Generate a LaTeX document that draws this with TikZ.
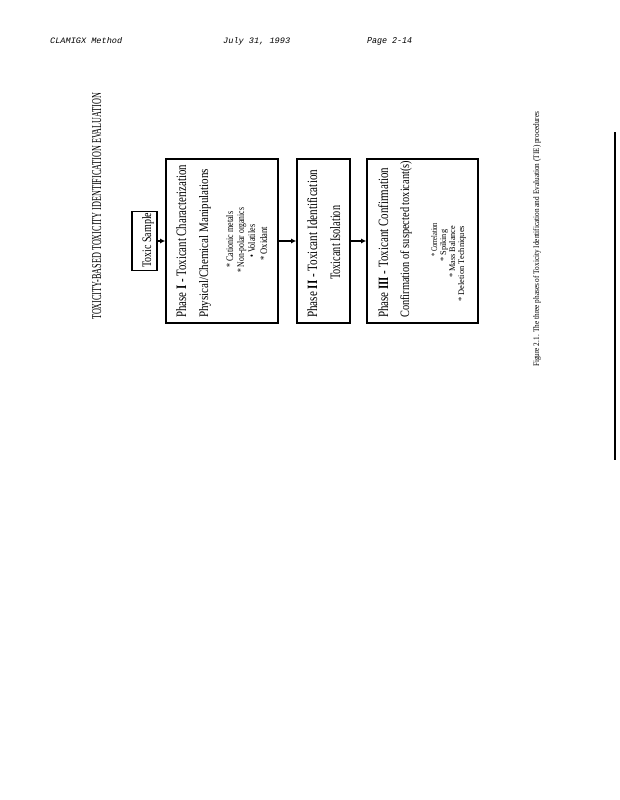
\documentclass[tikz,border=0pt]{standalone}
\usepackage{fontspec}
\setmainfont{Liberation Serif}
\setmonofont{Liberation Mono}
\usepackage{graphicx}
\usetikzlibrary{arrows.meta}

% squeeze a text to a given length and height (in pt)
\newcommand{\fitbox}[3]{\resizebox{#1pt}{#2pt}{#3}}

\begin{document}
\begin{tikzpicture}[x=1pt, y=-1pt,
    phase/.style={draw, line width=1.6pt, inner sep=0pt},
    vtext/.style={rotate=90, inner sep=0pt, anchor=base west},
    htext/.style={inner sep=0pt, anchor=base west, font=\ttfamily\itshape},
    flow/.style={line width=1.4pt, -{Latex[length=5pt, width=5pt]}},
]
\fill[white] (0,0) rectangle (619,800);
\useasboundingbox (0,0) rectangle (619,800);

% page header
\node[htext] (hmethod) at (50, 44) {\fitbox{72}{6}{CLAMIGX Method}};
\node[htext] (hdate) at (223, 44) {\fitbox{67}{6}{July 31, 1993}};
\node[htext] (hpage) at (367, 44) {\fitbox{45}{6}{Page 2-14}};

% title
\node[vtext] (title) at (101, 320) {\fitbox{227}{9}{TOXICITY-BASED TOXICITY IDENTIFICATION EVALUATION}};

% boxes
\node[phase, minimum width=25pt, minimum height=59pt] (sample) at (144.5, 241) {};
\node[phase, minimum width=112pt, minimum height=164pt] (p1) at (222, 241) {};
\node[phase, minimum width=53pt, minimum height=164pt] (p2) at (323.5, 241) {};
\node[phase, minimum width=111pt, minimum height=164pt] (p3) at (422.5, 241) {};

\draw[flow] (sample) -- (p1);
\draw[flow] (p1) -- (p2);
\draw[flow] (p2) -- (p3);

\node[vtext] (sampletxt) at (151, 268) {\fitbox{55}{9}{Toxic Sample}};

% phase I
\node[vtext] (p1title) at (186, 318) {\fitbox{153}{10}{Phase \textbf{I} - Toxicant Characterization}};
\node[vtext] (p1sub) at (208, 318) {\fitbox{149}{9}{Physical/Chemical Manipulations}};
\node[vtext] (p1a) at (233, 268) {\fitbox{56}{7}{* Cationic metals}};
\node[vtext] (p1b) at (244, 273) {\fitbox{65}{7}{* Non-polar organics}};
\node[vtext] (p1c) at (255, 258) {\fitbox{33}{7}{\textbullet{} Volatiles}};
\node[vtext] (p1d) at (267, 261) {\fitbox{34}{7}{* Oxidant}};

% phase II
\node[vtext] (p2title) at (317, 318) {\fitbox{148}{10}{Phase \textbf{II} - Toxicant Identification}};
\node[vtext] (p2sub) at (340, 280) {\fitbox{74}{10}{Toxicant Isolation}};

% phase III
\node[vtext] (p3title) at (388, 318) {\fitbox{150}{10}{Phase \textbf{III} - Toxicant Confirmation}};
\node[vtext] (p3sub) at (409, 318) {\fitbox{157}{9}{Confirmation of suspected toxicant(s)}};
\node[vtext] (p3a) at (437, 257) {\fitbox{34}{6}{* Correlation}};
\node[vtext] (p3b) at (446, 262) {\fitbox{32}{6}{* Spiking}};
\node[vtext] (p3c) at (455, 278) {\fitbox{52}{6}{* Mass Balance}};
\node[vtext] (p3d) at (464, 302) {\fitbox{76}{6}{* Deletion Techniques}};

% caption
\node[vtext] (caption) at (539, 367) {\fitbox{255}{6}{Figure 2.1. The three phases of Toxicity Identification and Evaluation (TIE) procedures}};

% page edge
\draw[line width=1.2pt] (615, 132) -- (615, 460);
\end{tikzpicture}
\end{document}
